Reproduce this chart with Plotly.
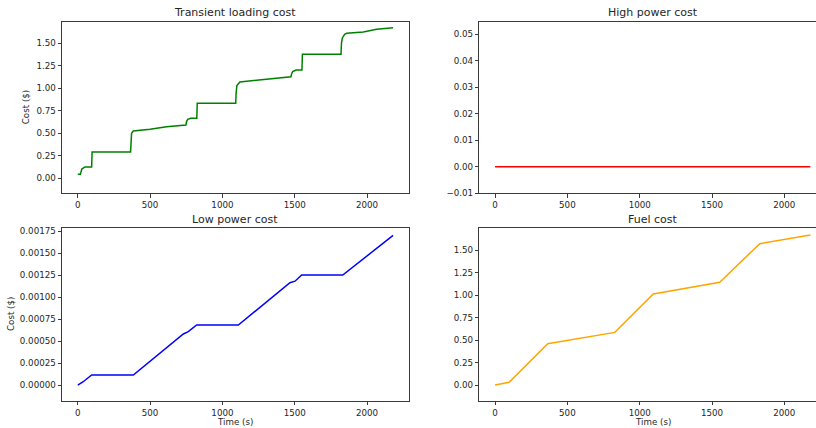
import plotly.graph_objects as go

# ---------------- data ----------------
# Transient loading cost (top-left)
t_trans = [0, 18, 28, 50, 96, 99, 365, 368, 372, 384, 500, 614, 748, 752, 760, 781,
           823, 826, 1092, 1095, 1100, 1121, 1260, 1352, 1474, 1478, 1486, 1509,
           1550, 1553, 1820, 1823, 1829, 1845, 1859, 1974, 2066, 2180]
v_trans = [0.044, 0.044, 0.103, 0.126, 0.126, 0.292, 0.292, 0.45, 0.50, 0.525, 0.544,
           0.574, 0.592, 0.63, 0.655, 0.666, 0.666, 0.833, 0.833, 0.95, 1.03, 1.07,
           1.092, 1.114, 1.129, 1.16, 1.185, 1.203, 1.203, 1.377, 1.377, 1.50, 1.56,
           1.60, 1.611, 1.626, 1.655, 1.673]

# High power cost (top-right)
t_high = [0, 2180]
v_high = [0.0, 0.0]

# Low power cost (bottom-left)
t_low = [0, 38, 96, 384, 730, 764, 822, 1110, 1467, 1502, 1548, 1832, 2180]
v_low = [0.0, 0.0000375, 0.000114, 0.000114, 0.00058, 0.000606, 0.000682, 0.000682,
         0.001163, 0.00118, 0.00125, 0.00125, 0.0017]

# Fuel cost (bottom-right)
t_fuel = [0, 97, 364, 828, 1094, 1553, 1830, 2180]
v_fuel = [0.0, 0.03, 0.459, 0.585, 1.011, 1.141, 1.57, 1.667]

titles = ["Transient loading cost", "High power cost", "Low power cost", "Fuel cost"]
x_ticks = [0, 500, 1000, 1500, 2000]

# ---------------- figure ----------------
W, H = 816, 428
FONT = "DejaVu Sans"
TXT = "#262626"
AX = "#3a3a3a"


def px_x(p):
    return p / W


def px_y(p):
    return 1 - p / H


fig = go.Figure()
fig.add_trace(go.Scatter(x=t_trans, y=v_trans, mode="lines", line=dict(color="#008000", width=1.5),
                         xaxis="x", yaxis="y", showlegend=False))
fig.add_trace(go.Scatter(x=t_high, y=v_high, mode="lines", line=dict(color="#ff0000", width=1.5),
                         xaxis="x2", yaxis="y2", showlegend=False))
fig.add_trace(go.Scatter(x=t_low, y=v_low, mode="lines", line=dict(color="#0000ff", width=1.5),
                         xaxis="x3", yaxis="y3", showlegend=False))
fig.add_trace(go.Scatter(x=t_fuel, y=v_fuel, mode="lines", line=dict(color="#ffa500", width=1.5),
                         xaxis="x4", yaxis="y4", showlegend=False))

left_dom = [px_x(62), px_x(409)]
right_dom = [px_x(479.3), 1.0]
top_dom = [px_y(193.3), px_y(21.7)]
bot_dom = [px_y(400.7), px_y(228.3)]

common_x = dict(showline=True, linecolor=AX, linewidth=1, mirror=True, ticks="outside",
                ticklen=3.5, tickwidth=1, tickcolor=AX, showgrid=False, zeroline=False,
                tickvals=x_ticks, tickfont=dict(family=FONT, size=8.7, color=TXT),
                automargin=False)
common_y = dict(showline=True, linecolor=AX, linewidth=1, ticks="outside",
                ticklen=3.5, tickwidth=1, tickcolor=AX, showgrid=False, zeroline=False,
                tickfont=dict(family=FONT, size=8.7, color=TXT), automargin=False)

fig.update_layout(
    width=W, height=H,
    margin=dict(l=0, r=0, t=0, b=0),
    paper_bgcolor="white", plot_bgcolor="white",
    showlegend=False,
    xaxis=dict(domain=left_dom, anchor="y", range=[-109, 2290], **common_x),
    yaxis=dict(domain=top_dom, anchor="x", range=[-0.1667, 1.740], tickvals=[0, 0.25, 0.5, 0.75, 1.0, 1.25, 1.5],
               tickformat=".2f", mirror=True, **common_y),
    xaxis2=dict(domain=right_dom, anchor="y2", range=[-109, 2219], **common_x),
    yaxis2=dict(domain=top_dom, anchor="x2", range=[-0.01005, 0.0548],
                tickvals=[-0.01, 0.0, 0.01, 0.02, 0.03, 0.04, 0.05],
                tickformat=".2f", mirror=False, **common_y),
    xaxis3=dict(domain=left_dom, anchor="y3", range=[-109, 2290], **common_x),
    yaxis3=dict(domain=bot_dom, anchor="x3", range=[-0.000178, 0.001781],
                tickvals=[0, 0.00025, 0.0005, 0.00075, 0.001, 0.00125, 0.0015, 0.00175],
                tickformat=".5f", mirror=True, **common_y),
    xaxis4=dict(domain=right_dom, anchor="y4", range=[-109, 2219], **common_x),
    yaxis4=dict(domain=bot_dom, anchor="x4", range=[-0.174, 1.741], tickvals=[0, 0.25, 0.5, 0.75, 1.0, 1.25, 1.5],
                tickformat=".2f", mirror=False, **common_y),
)

ann = []
title_pos = [(235.5, 12.3), (652.7, 12.3), (235.5, 219.0), (652.7, 219.0)]
for t, (x, y) in zip(titles, title_pos):
    ann.append(dict(text=t, x=px_x(x), y=px_y(y), xref="paper", yref="paper", showarrow=False,
                    xanchor="center", yanchor="middle", font=dict(family=FONT, size=11, color=TXT)))
for (x, y) in [(26.7, 107.5), (10.5, 314.5)]:
    ann.append(dict(text="Cost ($)", x=px_x(x), y=px_y(y), xref="paper", yref="paper", showarrow=False,
                    xanchor="center", yanchor="middle", textangle=-90,
                    font=dict(family=FONT, size=8.7, color=TXT)))
for (x, y) in [(235.5, 422.3), (652.7, 422.3)]:
    ann.append(dict(text="Time (s)", x=px_x(x), y=px_y(y), xref="paper", yref="paper", showarrow=False,
                    xanchor="center", yanchor="middle", font=dict(family=FONT, size=8.7, color=TXT)))
fig.update_layout(annotations=ann)

fig.write_html("out.html", config={"displayModeBar": False},
               post_script="document.body.style.margin='0px';document.body.style.overflow='hidden';")
